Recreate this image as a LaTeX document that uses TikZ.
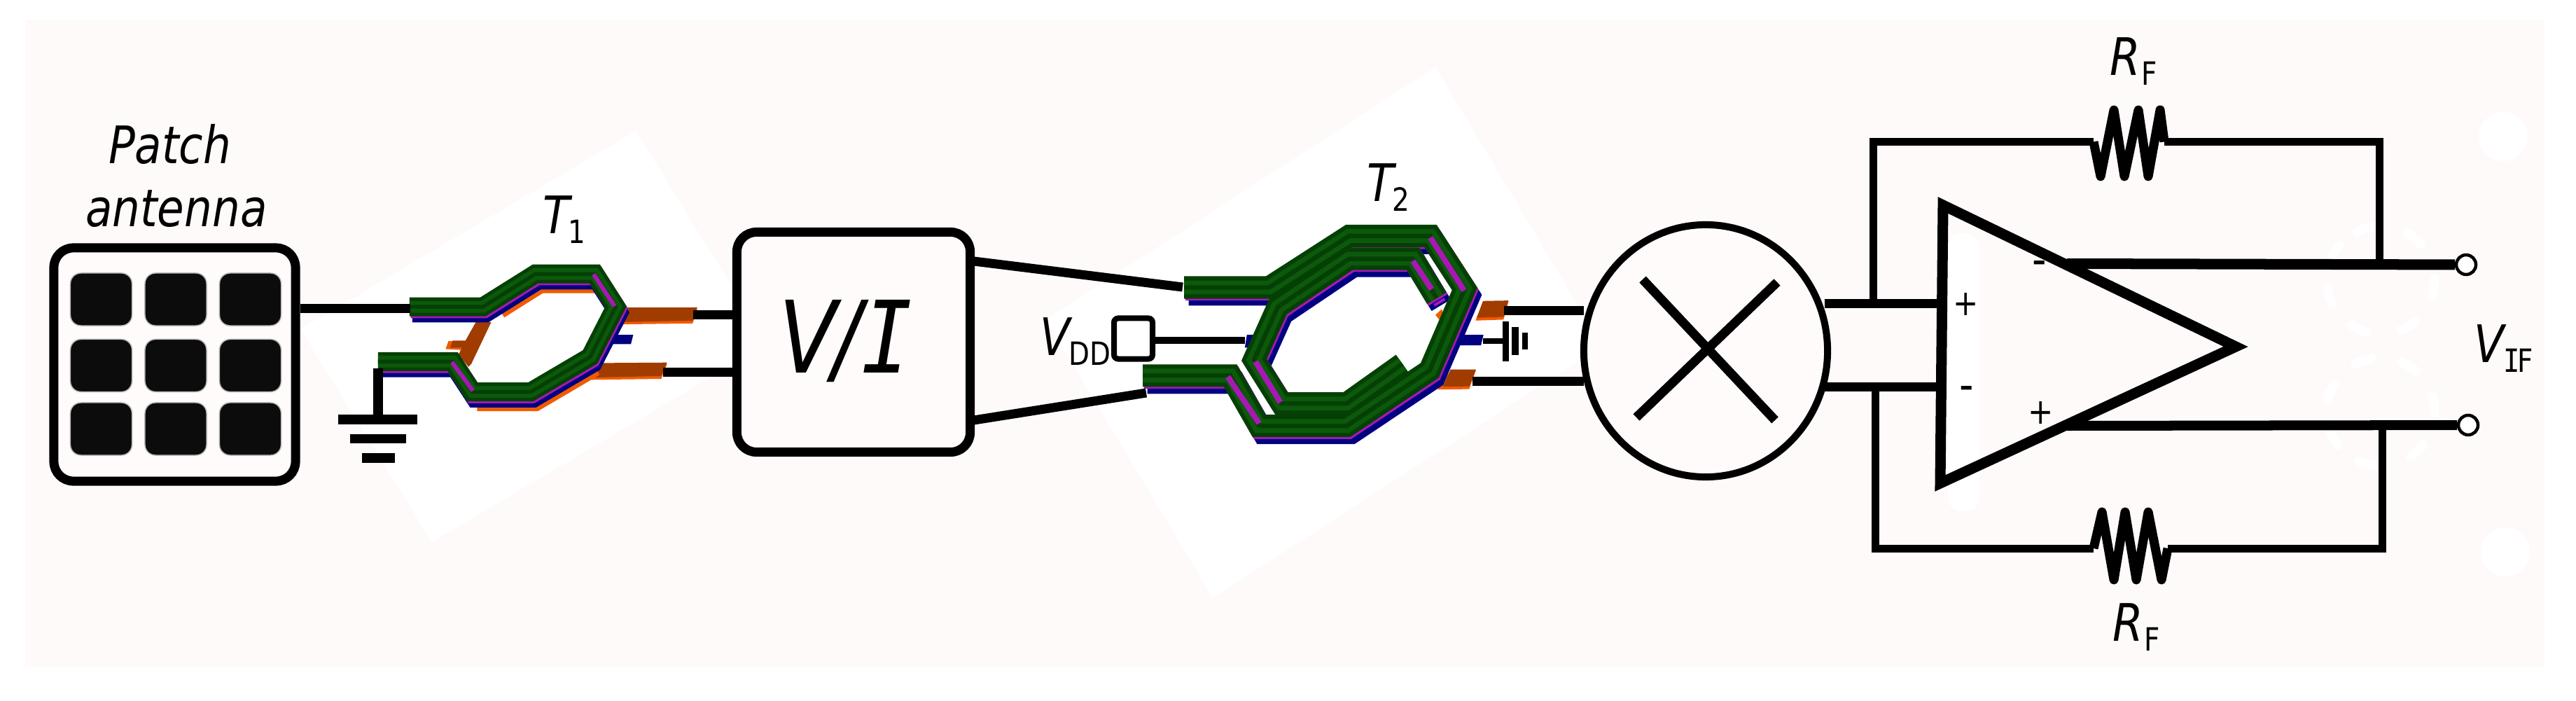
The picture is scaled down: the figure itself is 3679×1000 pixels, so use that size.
\documentclass[tikz,border=0pt]{standalone}
\usepackage{fontspec}
\usetikzlibrary{shapes.geometric}
\newfontfamily\lab[FakeStretch=0.85]{DejaVu Sans}
\newfontfamily\labm[FakeStretch=0.85]{DejaVu Sans Mono}
\def\pxu{0.2845pt}
\definecolor{bgc}{HTML}{FEFAF9}
\definecolor{fillc}{HTML}{FEFBFA}
\definecolor{gdark}{HTML}{044004}
\definecolor{glight}{HTML}{0C590C}
\definecolor{mag}{HTML}{A818B4}
\definecolor{nvy}{HTML}{000080}
\definecolor{brn}{HTML}{A03C00}
\definecolor{org}{HTML}{F05A00}
\definecolor{padk}{HTML}{0C0C0C}
\tikzset{
  wire/.style={draw=black,line width=#1*\pxu,line join=miter},
  wire/.default=13,
  blk/.style={draw=black,fill=fillc,line width=13*\pxu,rectangle,rounded corners=28*\pxu,inner sep=0pt},
  padn/.style={fill=padk,draw=black!28,line width=1.5*\pxu,rectangle,rounded corners=15*\pxu,inner sep=0pt,minimum width=88*\pxu,minimum height=75*\pxu},
  lbl/.style={inner sep=0pt,outer sep=0pt,anchor=base west,text=black},
  sgn/.style={inner sep=0pt,outer sep=0pt,text=black},
  sweep/.style={white,line width=13*\pxu,line cap=round},
  strip/.style={mag,line width=#1*\pxu},
  strip/.default=7,
  brnp/.style={fill=brn},
  orgp/.style={fill=org},
  resist/.style={draw=black,line width=13*\pxu,line join=round}
}
\newcommand\mainf{\lab\fontsize{21}{25}\selectfont}
\newcommand\subf{\lab\fontsize{13}{15}\selectfont\upshape}
\newcommand\subdrop[1]{\raisebox{-4pt}{\subf #1}}
\newcommand\greenband[2]{%
  \draw[gdark,line width=#2*\pxu,line join=miter] #1;
  \draw[glight,line width=0.62*#2*\pxu,line join=miter] #1;
  \draw[gdark,line width=0.2*#2*\pxu,line join=miter] #1;}
\newcommand\underband[6]{%
  \draw[nvy,line width=#2*\pxu,line join=miter,shift={(#3,#4)}] #1;
  \draw[mag,line width=#2*\pxu,line join=miter,shift={(#5,#6)}] #1;}
\def\coilTa{(255,325)--(570,325)--(795,184)--(1050,184)--(1140,325)--(1030,540)--(775,690)--(525,690)--(440,560)--(120,560)}
\def\coilSa{(115,332)--(455,332)--(775,111)--(1100,111)--(1237,338)--(1097,688)--(765,926)--(415,926)--(300,710)--(-50,710)}
\def\coilSb{(1125,378)--(1030,209)--(775,209)--(490,415)--(395,642)--(505,830)--(765,830)--(988,660)}
\begin{document}
\begin{tikzpicture}[x=0.01cm,y=-0.01cm]
\useasboundingbox (0,0) rectangle (3679,1000);
\fill[white] (0,0) rectangle (3679,1000);
\fill[bgc] (36,29) rectangle (3634,953);
% white pasted patches
\fill[white] (908,187) -- (429,470) -- (617,774) -- (1096,491) -- cycle;
\fill[white] (2050,96) -- (1494,456) -- (1732,854) -- (2288,494) -- cycle;
\fill[white] (3575,195) circle (35);
\fill[white] (3578,788) circle (35);
\fill[white,rounded corners=20*\pxu] (2782,333) rectangle (2827,730);
\foreach \a in {149,107,51,-7,198,246,301}
  \draw[sweep] plot[domain=\a-9:\a+9,samples=6] ({3400+77*cos(\x)},{400-77*sin(\x)});
\foreach \a in {109,58,8,159,209,255,313}
  \draw[sweep] plot[domain=\a-9:\a+9,samples=6] ({3400+77*cos(\x)},{588-77*sin(\x)});

% T1 coil
\begin{scope}[shift={(500,330)},x=0.003333cm,y=-0.003333cm]
  \fill[orgp] (1180,336)--(1490,336)--(1470,396)--(1170,400)--cycle;
  \fill[brnp] (1180,328)--(1490,328)--(1470,384)--(1170,390)--cycle;
  \fill[orgp] (1085,572)--(1360,570)--(1335,634)--(1030,638)--cycle;
  \fill[brnp] (1085,566)--(1360,564)--(1335,622)--(1040,628)--cycle;
  \fill[orgp] (410,506)--(422,472)--(500,472)--(480,510)--cycle;
  \fill[brnp] (540,390)--(606,390)--(520,570)--(508,582)--(465,530)--(480,500)--(430,500)--(440,470)--(495,470)--cycle;
  \draw[org,line width=27*\pxu,line join=miter,shift={(20,42)}] (620,294)--(795,184)--(1040,184);
  \draw[org,line width=27*\pxu,line join=miter,shift={(20,42)}] (525,690)--(775,690)--(1030,540);
  \fill[nvy] (1130,445)--(1215,445)--(1205,485)--(1120,485)--cycle;
  \underband{\coilTa}{27}{12}{26}{5}{8}
  \greenband{\coilTa}{27}
  \draw[strip=6] (1045,185)--(1135,322);
  \draw[strip=6] (437,562)--(527,685);
\end{scope}

% T2 coil
\begin{scope}[shift={(1650,300)},x=0.003571cm,y=-0.003333cm]
  \fill[orgp] (1310,396)--(1412,392)--(1392,470)--(1280,474)--cycle;
  \fill[brnp] (1310,390)--(1412,388)--(1392,458)--(1285,462)--cycle;
  \fill[orgp] (1180,690)--(1282,686)--(1255,768)--(1128,770)--cycle;
  \fill[brnp] (1180,684)--(1282,684)--(1255,756)--(1150,758)--cycle;
  \fill[orgp] (1120,450)--(1145,425)--(1150,440)--(1135,470)--cycle;
  \fill[nvy] (1215,535)--(1312,535)--(1302,580)--(1205,580)--cycle;
  \fill[nvy] (358,590)--(366,535)--(405,535)--(390,590)--cycle;
  \underband{\coilSa}{32}{18}{30}{5}{8}
  \underband{\coilSb}{32}{18}{30}{5}{8}
  \greenband{\coilSb}{32}
  \greenband{\coilSa}{32}
  \draw[strip=8] (1100,118)--(1235,345);
  \draw[strip=8] (1030,218)--(1105,340);
  \draw[strip=8] (400,650)--(500,825);
  \draw[strip=8] (290,715)--(415,915);
  \draw[strip=4] (1115,408)--(1157,382);
\end{scope}

% blocks
\node[blk,minimum width=345*\pxu,minimum height=333*\pxu] (patch) at (249.5,520.5) {};
\foreach \cx/\i in {144.5/1,251/2,357.5/3}
  \foreach \cy/\j in {427.5/1,522/2,612.5/3}
    \node[padn] (p\i\j) at (\cx,\cy) {};
\node[blk,minimum width=333*\pxu,minimum height=314*\pxu] (vi) at (1219,488.5) {};
\node[draw=black,fill=fillc,ellipse,line width=10*\pxu,minimum width=348*\pxu,minimum height=360*\pxu,inner sep=0pt] (mixer) at (2436,501) {};
\node[draw=black,fill=white,line width=8*\pxu,rectangle,rounded corners=6*\pxu,minimum width=55*\pxu,minimum height=58*\pxu,inner sep=0pt] (vdd) at (1618.5,483.5) {};
\node[draw=black,fill=white,circle,line width=4.5*\pxu,minimum size=28*\pxu,inner sep=0pt] (outa) at (3522,378) {};
\node[draw=black,fill=white,circle,line width=4.5*\pxu,minimum size=28*\pxu,inner sep=0pt] (outb) at (3525,607) {};

% named wire ends
\coordinate (t1in) at (586,440);
\coordinate (t1a) at (990,449.5);
\coordinate (t1b) at (947,531);
\coordinate (t1g) at (540,526);
\coordinate (g1) at (540,599);
\coordinate (t2a) at (1689,410);
\coordinate (t2b) at (1637,561);
\coordinate (via) at (1391,373);
\coordinate (vib) at (1391,600);
\coordinate (t2v) at (1778,486);
\coordinate (t2oa) at (2148,443.5);
\coordinate (t2ob) at (2103,544.5);
\coordinate (t2gnd) at (2118,487);
\coordinate (bat) at (2150,487);
\coordinate (mixa) at (2262,443.5);
\coordinate (mixb) at (2262,544.5);
\coordinate (mouta) at (2606,433);
\coordinate (moutb) at (2606,552);
\coordinate (ampa) at (2775,433);
\coordinate (ampb) at (2771,552);
\coordinate (ampTL) at (2775,293);
\coordinate (ampBL) at (2771,690);
\coordinate (ampT) at (3193,495);
\coordinate (aoa) at (2952,376.5);
\coordinate (aob) at (2952,608);
\coordinate (fba) at (2675,433);
\coordinate (fbb) at (2678,552);
\coordinate (fbar) at (3398.5,376.5);
\coordinate (fbbr) at (3402,608);
\coordinate (rta) at (2990,202.5);
\coordinate (rtb) at (3091,202.5);
\coordinate (rba) at (2990,783);
\coordinate (rbb) at (3096,783);

% wires
\draw[wire] (patch.east |- t1in) -- (t1in);
\draw[wire] (t1a) -- (vi.west |- t1a);
\draw[wire] (t1b) -- (vi.west |- t1b);
\draw[wire=14] (t1g) -- (g1);
\draw[wire] (via) -- (t2a);
\draw[wire] (vib) -- (t2b);
\draw[wire=10] (vdd.east |- t2v) -- (t2v);
\draw[wire] (t2oa) -- (mixa);
\draw[wire] (t2ob) -- (mixb);
\draw[wire=8] (t2gnd) -- (bat);
\draw[wire=13] (mouta) -- (ampa);
\draw[wire=13] (moutb) -- (ampb);

% grounds
\fill (483,592) rectangle (596,606);
\fill (500,620) rectangle (580,633);
\fill (517,647) rectangle (564,661);
\fill (2146,459) rectangle (2155,516);
\fill (2159,467) rectangle (2169,507);
\fill (2174,475) rectangle (2182,499);

% mixer cross
\coordinate (xa) at (2346,399); \coordinate (xb) at (2535,600);
\coordinate (xc) at (2337,596); \coordinate (xd) at (2538,403);
\draw[wire=13] (xa) -- (xb);
\draw[wire=13] (xc) -- (xd);

% op amp
\draw[wire=15] (ampTL) -- (ampT) -- (ampBL) -- cycle;
\draw[wire=15] (aoa) -- (outa);
\draw[wire=14] (aob) -- (outb);
% feedback
\draw[wire=11] (fba) -- (fba |- rta) -- (rta);
\draw[wire=11] (rtb) -- (fbar |- rtb) -- (fbar);
\draw[resist] (rta) -- (3000,252) -- (3019,157) -- (3034,252) -- (3054,157) -- (3068,252) -- (3085,157) -- (rtb);
\draw[wire=11] (fbb) -- (fbb |- rba) -- (rba);
\draw[wire=11] (rbb) -- (fbbr |- rbb) -- (fbbr);
\draw[resist] (rba) -- (3002,731) -- (3019,828) -- (3035,731) -- (3051,828) -- (3068,731) -- (3087,828) -- (rbb);

% labels
\node[lbl] (ptxt) at (155,233) {\mainf\itshape Patch};
\node[lbl] (atxt) at (122,323) {\mainf\itshape antenna};
\node[lbl] (t1l) at (775,333) {\mainf\itshape T\kern-0.5pt\subdrop{1}};
\node[lbl] (t2l) at (1952,287) {\mainf\itshape T\kern-0.5pt\subdrop{2}};
\node[lbl] (vddl) at (1485,507) {\mainf\itshape V\kern-0.5pt\subdrop{DD}};
\node[lbl] (rft) at (3013,107) {\mainf\itshape R\kern0.5pt\subdrop{F}};
\node[lbl] (rfb) at (3017,915) {\mainf\itshape R\kern0.5pt\subdrop{F}};
\node[lbl] (vif) at (3533,517) {\mainf\itshape V\raisebox{-4pt}{\labm\fontsize{13}{15}\selectfont\upshape I\kern-1pt}\subdrop{F}};
\node[lbl] (vil) at (1112,532) {\lab\fontsize{40.6}{48}\selectfont\itshape V\kern-1.5pt/\kern0pt{\labm I}};
\node[sgn] (s1) at (2808,435) {\lab\fontsize{14.5}{16}\selectfont +};
\node[sgn] (s2) at (2913,383) {\lab\fontsize{19}{20}\selectfont -};
\node[sgn] (s3) at (2809,562) {\lab\fontsize{19}{20}\selectfont -};
\node[sgn] (s4) at (2915,590) {\lab\fontsize{14.5}{16}\selectfont +};
\end{tikzpicture}
\end{document}
